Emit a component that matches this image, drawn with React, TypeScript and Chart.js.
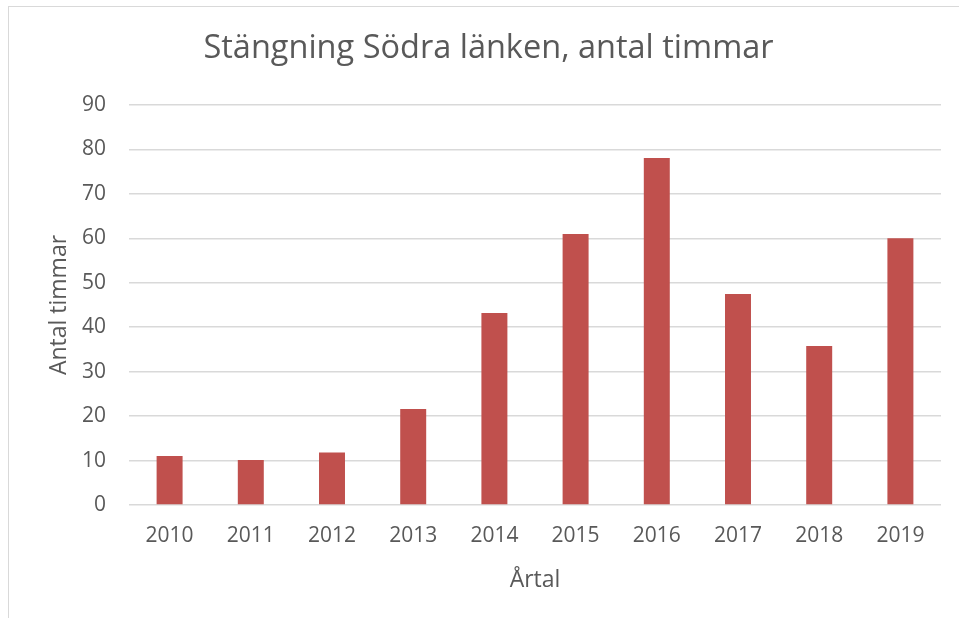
import React, { useEffect, useRef } from "react";
import { Chart, registerables } from "chart.js";

Chart.register(...registerables);

const categories = ["2010", "2011", "2012", "2013", "2014", "2015", "2016", "2017", "2018", "2019"];
const hours = [11.0, 10.1, 11.8, 21.6, 43.2, 61.0, 78.1, 47.5, 35.8, 60.0];
const titleText = "Stängning Södra länken, antal timmar";
const yTitle = "Antal timmar";
const xTitle = "Årtal";

const FONT = "'Open Sans', sans-serif";
const TEXT = "#595959";
const GRID = "#D9D9D9";
const BAR = "#C0504D";

export default function App() {
  const ref = useRef<HTMLCanvasElement | null>(null);

  useEffect(() => {
    if (!ref.current) return;
    const chart = new Chart(ref.current, {
      type: "bar",
      data: {
        labels: categories,
        datasets: [
          {
            data: hours,
            backgroundColor: BAR,
            borderWidth: 0,
            barPercentage: 0.32,
            categoryPercentage: 1,
          },
        ],
      },
      options: {
        responsive: false,
        animation: false,
        devicePixelRatio: 1,
        layout: { padding: { left: 27, right: 18, top: 0, bottom: 0 } },
        plugins: {
          legend: { display: false },
          tooltip: { enabled: false },
          title: {
            display: true,
            text: titleText,
            color: TEXT,
            font: { family: FONT, size: 32.5, weight: "normal" },
            padding: { top: 22, bottom: 37 },
          },
        },
        scales: {
          x: {
            grid: { display: false, drawTicks: false },
            border: { display: false },
            ticks: {
              color: TEXT,
              font: { family: FONT, size: 21 },
              padding: 18,
              maxRotation: 0,
            },
            title: {
              display: true,
              text: xTitle,
              color: TEXT,
              font: { family: FONT, size: 23 },
              padding: { top: 0, bottom: 24 },
            },
            afterFit: (s: any) => {
              s.height = 113;
            },
          },
          y: {
            min: 0,
            max: 90,
            grid: { color: GRID, lineWidth: 1.5, drawTicks: false },
            border: { display: false },
            ticks: {
              stepSize: 10,
              color: TEXT,
              font: { family: FONT, size: 21 },
              padding: 23,
            },
            title: {
              display: true,
              text: yTitle,
              color: TEXT,
              font: { family: FONT, size: 23 },
              padding: { top: 10, bottom: 0 },
            },
            afterFit: (s: any) => {
              s.width = 93;
            },
          },
        },
      },
    });
    return () => chart.destroy();
  }, []);

  return (
    <div
      style={{
        position: "absolute",
        left: 8,
        top: 6,
        width: 950,
        height: 611,
        borderLeft: "1px solid #D9D9D9",
        borderTop: "1px solid #D9D9D9",
        background: "#fff",
      }}
    >
      <canvas ref={ref} width={950} height={611} style={{ display: "block" }} />
    </div>
  );
}
